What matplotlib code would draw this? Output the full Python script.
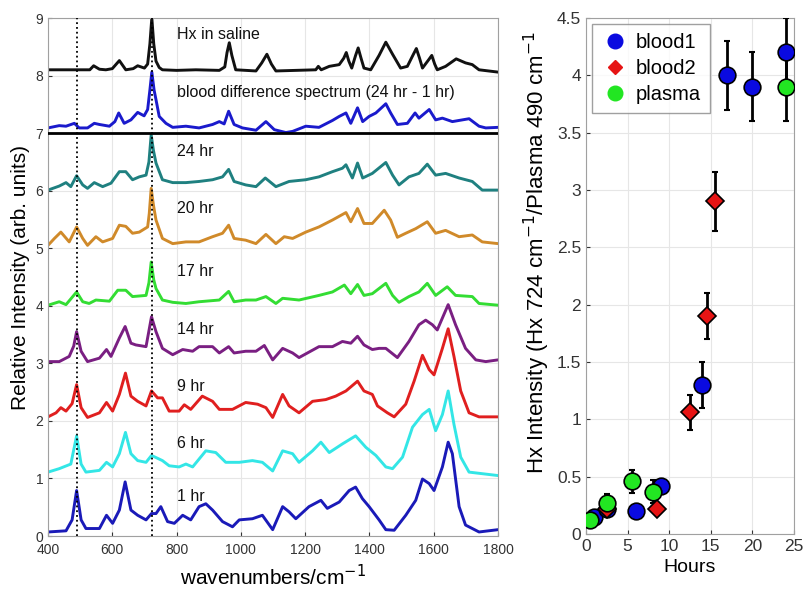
import matplotlib
matplotlib.use('Agg')
import matplotlib.pyplot as plt
from matplotlib.lines import Line2D

plt.rcParams['font.family'] = ['Liberation Sans', 'DejaVu Sans']

# ---------------- spectra (wavenumber, relative intensity incl. offset) ----------------
hx_wn = [400, 530, 542, 560, 580, 600, 622, 642, 665, 679, 700, 710, 717, 723, 729, 736, 746, 756,
         800, 860, 933, 950, 957, 964, 972, 984, 1047, 1065, 1081, 1095, 1109, 1233, 1241, 1250,
         1275, 1306, 1320, 1328, 1336, 1345, 1357, 1365, 1374, 1383, 1404, 1430, 1451, 1472, 1497,
         1518, 1535, 1546, 1556, 1565, 1585, 1594, 1603, 1611, 1637, 1670, 1699, 1720, 1741, 1800]
hx_val = [8.10, 8.10, 8.17, 8.11, 8.10, 8.12, 8.26, 8.10, 8.12, 8.17, 8.13, 8.20, 8.55, 9.00, 8.55,
          8.25, 8.14, 8.10, 8.09, 8.10, 8.09, 8.15, 8.40, 8.57, 8.35, 8.10, 8.08, 8.22, 8.37, 8.20,
          8.08, 8.10, 8.16, 8.10, 8.16, 8.19, 8.30, 8.40, 8.25, 8.13, 8.35, 8.48, 8.30, 8.13, 8.10,
          8.35, 8.58, 8.37, 8.13, 8.16, 8.35, 8.47, 8.30, 8.13, 8.28, 8.35, 8.20, 8.10, 8.16, 8.29,
          8.22, 8.19, 8.10, 8.06]

diff_wn = [400, 435, 456, 482, 497, 523, 544, 560, 591, 608, 620, 637, 658, 679, 699, 710, 717, 723,
           730, 736, 746, 767, 788, 829, 870, 912, 933, 948, 962, 979, 1005, 1047, 1078, 1104, 1140,
           1161, 1202, 1243, 1285, 1306, 1327, 1342, 1363, 1379, 1399, 1420, 1451, 1466, 1487, 1518,
           1542, 1554, 1586, 1606, 1627, 1658, 1710, 1741, 1762, 1800]
diff_val = [7.09, 7.13, 7.12, 7.17, 7.09, 7.09, 7.17, 7.15, 7.12, 7.20, 7.35, 7.17, 7.23, 7.36, 7.30,
            7.41, 7.75, 8.06, 7.75, 7.58, 7.29, 7.17, 7.10, 7.12, 7.09, 7.15, 7.20, 7.16, 7.38, 7.15,
            7.09, 7.05, 7.20, 7.06, 7.01, 7.03, 7.12, 7.10, 7.22, 7.29, 7.35, 7.17, 7.44, 7.20, 7.29,
            7.35, 7.51, 7.35, 7.15, 7.17, 7.35, 7.26, 7.41, 7.23, 7.26, 7.20, 7.25, 7.12, 7.09, 7.10]

h24_wn = [400, 435, 456, 471, 489, 508, 523, 544, 570, 596, 622, 642, 663, 684, 705, 714, 721, 728,
          736, 756, 788, 829, 870, 912, 943, 962, 979, 1015, 1047, 1076, 1109, 1150, 1202, 1243, 1285,
          1316, 1327, 1347, 1363, 1379, 1409, 1451, 1472, 1492, 1523, 1554, 1580, 1606, 1637, 1679,
          1720, 1751, 1800]
h24_val = [6.01, 6.08, 6.14, 6.07, 6.26, 6.10, 6.04, 6.14, 6.07, 6.13, 6.33, 6.33, 6.19, 6.24, 6.27,
           6.50, 6.97, 6.70, 6.48, 6.19, 6.14, 6.14, 6.16, 6.19, 6.24, 6.37, 6.16, 6.10, 6.07, 6.22,
           6.07, 6.16, 6.19, 6.24, 6.33, 6.39, 6.45, 6.22, 6.48, 6.22, 6.30, 6.49, 6.27, 6.10, 6.24,
           6.30, 6.46, 6.27, 6.30, 6.22, 6.16, 6.01, 6.01]

h20_wn = [400, 420, 440, 466, 489, 508, 523, 549, 570, 601, 622, 642, 663, 684, 710, 715, 721, 728,
          736, 756, 788, 829, 870, 912, 943, 962, 979, 1015, 1047, 1078, 1109, 1135, 1161, 1202, 1243,
          1285, 1327, 1342, 1363, 1383, 1409, 1446, 1466, 1487, 1513, 1544, 1580, 1606, 1637, 1679,
          1720, 1751, 1800]
h20_val = [5.05, 5.17, 5.28, 5.11, 5.37, 5.17, 5.05, 5.20, 5.11, 5.17, 5.40, 5.38, 5.26, 5.28, 5.37,
           5.60, 6.04, 5.75, 5.49, 5.17, 5.08, 5.11, 5.11, 5.20, 5.26, 5.40, 5.17, 5.14, 5.08, 5.24,
           5.08, 5.20, 5.17, 5.28, 5.37, 5.49, 5.62, 5.46, 5.69, 5.43, 5.43, 5.66, 5.49, 5.19, 5.26,
           5.34, 5.46, 5.26, 5.31, 5.20, 5.23, 5.11, 5.08]

h17_wn = [400, 435, 456, 489, 508, 528, 549, 591, 617, 642, 663, 705, 714, 721, 729, 736, 756, 788,
          829, 870, 933, 962, 979, 1015, 1047, 1078, 1109, 1130, 1181, 1243, 1285, 1322, 1342, 1363,
          1383, 1409, 1451, 1472, 1492, 1523, 1554, 1580, 1606, 1642, 1668, 1720, 1741, 1800]
h17_val = [4.01, 4.07, 4.02, 4.24, 4.07, 4.04, 4.10, 4.08, 4.27, 4.27, 4.16, 4.18, 4.40, 4.76, 4.45,
           4.30, 4.10, 4.06, 4.04, 4.07, 4.10, 4.25, 4.07, 4.10, 4.10, 4.16, 4.04, 4.13, 4.10, 4.18,
           4.24, 4.36, 4.21, 4.37, 4.18, 4.21, 4.39, 4.18, 4.06, 4.16, 4.24, 4.39, 4.18, 4.33, 4.18,
           4.16, 4.04, 4.01]

h14_wn = [400, 435, 466, 480, 489, 503, 523, 560, 582, 596, 622, 640, 658, 673, 705, 722, 736, 756,
          788, 819, 850, 870, 912, 933, 962, 979, 1015, 1047, 1073, 1099, 1130, 1161, 1181, 1243, 1285,
          1316, 1342, 1363, 1383, 1409, 1430, 1451, 1487, 1523, 1554, 1575, 1596, 1611, 1645, 1668,
          1699, 1731, 1762, 1800]
h14_val = [3.03, 3.03, 3.12, 3.30, 3.55, 3.21, 3.03, 3.09, 3.24, 3.12, 3.44, 3.64, 3.35, 3.32, 3.29,
           3.81, 3.55, 3.26, 3.15, 3.24, 3.21, 3.29, 3.29, 3.18, 3.29, 3.18, 3.21, 3.21, 3.31, 3.06,
           3.26, 3.18, 3.10, 3.29, 3.29, 3.38, 3.35, 3.47, 3.32, 3.24, 3.26, 3.26, 3.10, 3.38, 3.67,
           3.75, 3.67, 3.58, 4.02, 3.67, 3.26, 3.06, 3.03, 3.06]

h9_wn = [400, 425, 440, 456, 475, 489, 503, 523, 560, 582, 601, 622, 641, 658, 679, 705, 722, 741,
         756, 777, 808, 824, 844, 880, 912, 933, 974, 1015, 1052, 1078, 1099, 1130, 1150, 1181, 1223,
         1264, 1295, 1327, 1363, 1383, 1409, 1425, 1456, 1477, 1513, 1539, 1565, 1586, 1601, 1627,
         1645, 1663, 1684, 1710, 1741, 1800]
h9_val = [2.07, 2.14, 2.23, 2.17, 2.30, 2.63, 2.23, 2.06, 2.14, 2.32, 2.17, 2.46, 2.83, 2.43, 2.34,
          2.26, 2.52, 2.40, 2.40, 2.17, 2.17, 2.28, 2.20, 2.43, 2.34, 2.20, 2.20, 2.32, 2.29, 2.23,
          2.06, 2.46, 2.26, 2.14, 2.34, 2.37, 2.43, 2.52, 2.69, 2.52, 2.46, 2.26, 2.14, 2.07, 2.29,
          2.69, 3.14, 2.89, 2.80, 3.26, 3.60, 3.12, 2.52, 2.14, 2.07, 2.07]

h6_wn = [400, 435, 471, 489, 503, 518, 560, 582, 601, 622, 641, 658, 679, 705, 722, 756, 777, 808,
         829, 850, 891, 922, 953, 995, 1036, 1067, 1099, 1130, 1161, 1181, 1223, 1249, 1275, 1316,
         1357, 1389, 1420, 1451, 1472, 1503, 1534, 1565, 1586, 1606, 1627, 1645, 1663, 1684, 1710, 1800]
h6_val = [1.11, 1.17, 1.25, 1.74, 1.25, 1.11, 1.14, 1.28, 1.20, 1.43, 1.80, 1.43, 1.31, 1.28, 1.40,
          1.31, 1.22, 1.20, 1.25, 1.20, 1.48, 1.45, 1.28, 1.28, 1.31, 1.28, 1.13, 1.48, 1.43, 1.28,
          1.48, 1.63, 1.45, 1.60, 1.74, 1.54, 1.40, 1.20, 1.17, 1.37, 1.89, 2.11, 2.20, 1.83, 2.11,
          2.52, 1.94, 1.37, 1.11, 1.05]

h1_wn = [400, 456, 475, 489, 503, 518, 560, 582, 601, 622, 640, 658, 679, 705, 722, 736, 751, 772,
         793, 819, 844, 870, 891, 912, 943, 974, 995, 1036, 1067, 1099, 1130, 1150, 1171, 1212, 1249,
         1269, 1306, 1337, 1357, 1378, 1399, 1430, 1451, 1477, 1513, 1544, 1565, 1586, 1601, 1627,
         1645, 1658, 1679, 1699, 1741, 1800]
h1_val = [0.07, 0.09, 0.28, 0.79, 0.28, 0.13, 0.13, 0.36, 0.22, 0.45, 0.94, 0.45, 0.36, 0.28, 0.39,
          0.39, 0.51, 0.25, 0.22, 0.36, 0.28, 0.51, 0.56, 0.45, 0.25, 0.16, 0.28, 0.30, 0.36, 0.11,
          0.51, 0.42, 0.30, 0.51, 0.62, 0.48, 0.59, 0.79, 0.85, 0.65, 0.51, 0.28, 0.11, 0.10, 0.36,
          0.62, 0.99, 0.91, 0.79, 1.20, 1.63, 1.43, 0.51, 0.19, 0.07, 0.11]

spectra = [
    (hx_wn, hx_val, '#111111', 'Hx in saline', 8.72),
    (diff_wn, diff_val, '#1a1acc', 'blood difference spectrum (24 hr - 1 hr)', 7.70),
    (h24_wn, h24_val, '#1f8080', '24 hr', 6.68),
    (h20_wn, h20_val, '#d08a2a', '20 hr', 5.69),
    (h17_wn, h17_val, '#33dd33', '17 hr', 4.59),
    (h14_wn, h14_val, '#7a1f82', '14 hr', 3.58),
    (h9_wn, h9_val, '#e01f1f', '9 hr', 2.60),
    (h6_wn, h6_val, '#33e6e6', '6 hr', 1.60),
    (h1_wn, h1_val, '#1a1ab8', '1 hr', 0.68),
]
marker_lines = [490, 724]

# ---------------- ratio vs time ----------------
blood1_h = [1, 2.5, 6, 9, 14, 17, 20, 24]
blood1_v = [0.15, 0.22, 0.20, 0.42, 1.30, 4.00, 3.90, 4.20]
blood1_e = [0.03, 0.05, 0.03, 0.05, 0.20, 0.30, 0.30, 0.30]
blood2_h = [2.5, 8.5, 12.5, 14.5, 15.5]
blood2_v = [0.22, 0.22, 1.06, 1.90, 2.90]
blood2_e = [0.05, 0.05, 0.15, 0.20, 0.26]
plasma_h = [0.5, 2.5, 5.5, 8, 24]
plasma_v = [0.12, 0.27, 0.46, 0.37, 3.90]
plasma_e = [0.03, 0.08, 0.10, 0.10, 0.30]

fig = plt.figure(figsize=(8.04, 5.91), dpi=100)
grid_kw = dict(color='#e6e6e6', lw=0.8)
tick_col = '#333333'

# ---------------- left panel ----------------
ax = fig.add_axes([48/804, 55/591, 450/804, 518/591])
for xv in marker_lines:
    ax.axvline(xv, color='black', ls=':', lw=1.3, zorder=3)
ax.axhline(7, color='black', lw=2, zorder=3)
for wn, val, col, lab, ty in spectra:
    ax.plot(wn, val, color=col, lw=2.1, zorder=2, solid_joinstyle='round')
    ax.text(800, ty, lab, fontsize=11.5, va='center', ha='left', color='#111111')
ax.set_xlim(400, 1800)
ax.set_ylim(0, 9)
ax.set_xticks(range(400, 1801, 200))
ax.set_yticks(range(0, 10))
ax.grid(True, **grid_kw)
ax.set_axisbelow(True)
ax.tick_params(direction='in', labelsize=10, colors=tick_col, length=3)
ax.tick_params(axis='x', pad=5)
for s in ax.spines.values():
    s.set_color('#a0a0a0')
ax.set_xlabel('wavenumbers/cm$^{-1}$', fontsize=15, labelpad=5)
ax.set_ylabel('Relative Intensity (arb. units)', fontsize=15, labelpad=4)

# ---------------- right panel ----------------
ax2 = fig.add_axes([586/804, 57/591, 208/804, 516/591])
series = [
    (blood1_h, blood1_v, blood1_e, '#0a0ae0', 'o', 'blood1'),
    (blood2_h, blood2_v, blood2_e, '#e61414', 'D', 'blood2'),
    (plasma_h, plasma_v, plasma_e, '#22e622', 'o', 'plasma'),
]
handles = []
for h, v, e, col, mk, lab in series:
    ms = 12 if mk == 'o' else 9
    ax2.errorbar(h, v, yerr=e, fmt='none', ecolor='black', elinewidth=2,
                 capsize=2, capthick=1.5, zorder=3)
    ax2.plot(h, v, ls='none', marker=mk, ms=ms, mfc=col, mec='black', mew=1.2, zorder=4)
    handles.append(Line2D([], [], ls='none', marker=mk, ms=ms - 1.5, mfc=col, mec=col, label=lab))
ax2.set_xlim(0, 25)
ax2.set_ylim(0, 4.5)
ax2.set_xticks(range(0, 26, 5))
ax2.set_yticks([0, 0.5, 1, 1.5, 2, 2.5, 3, 3.5, 4, 4.5])
ax2.set_yticklabels(['0', '0.5', '1', '1.5', '2', '2.5', '3', '3.5', '4', '4.5'])
ax2.grid(True, **grid_kw)
ax2.set_axisbelow(True)
ax2.tick_params(direction='in', labelsize=12.5, colors=tick_col, length=3)
for s in ax2.spines.values():
    s.set_color('#a0a0a0')
ax2.set_xlabel('Hours', fontsize=14, labelpad=4)
ax2.set_ylabel('Hx Intensity (Hx 724 cm$^{-1}$/Plasma 490 cm$^{-1}$', fontsize=16, labelpad=3)
ax2.yaxis.set_label_coords(-0.165, 0.545)
leg = ax2.legend(handles=handles, loc='upper left', fontsize=14.5, frameon=True, fancybox=False,
                 borderaxespad=0.3, handletextpad=0.3, handlelength=1.4, borderpad=0.45,
                 labelspacing=0.35)
leg.get_frame().set_edgecolor('#888888')
leg.get_frame().set_linewidth(1.0)

fig.savefig('out.png', dpi=100)
